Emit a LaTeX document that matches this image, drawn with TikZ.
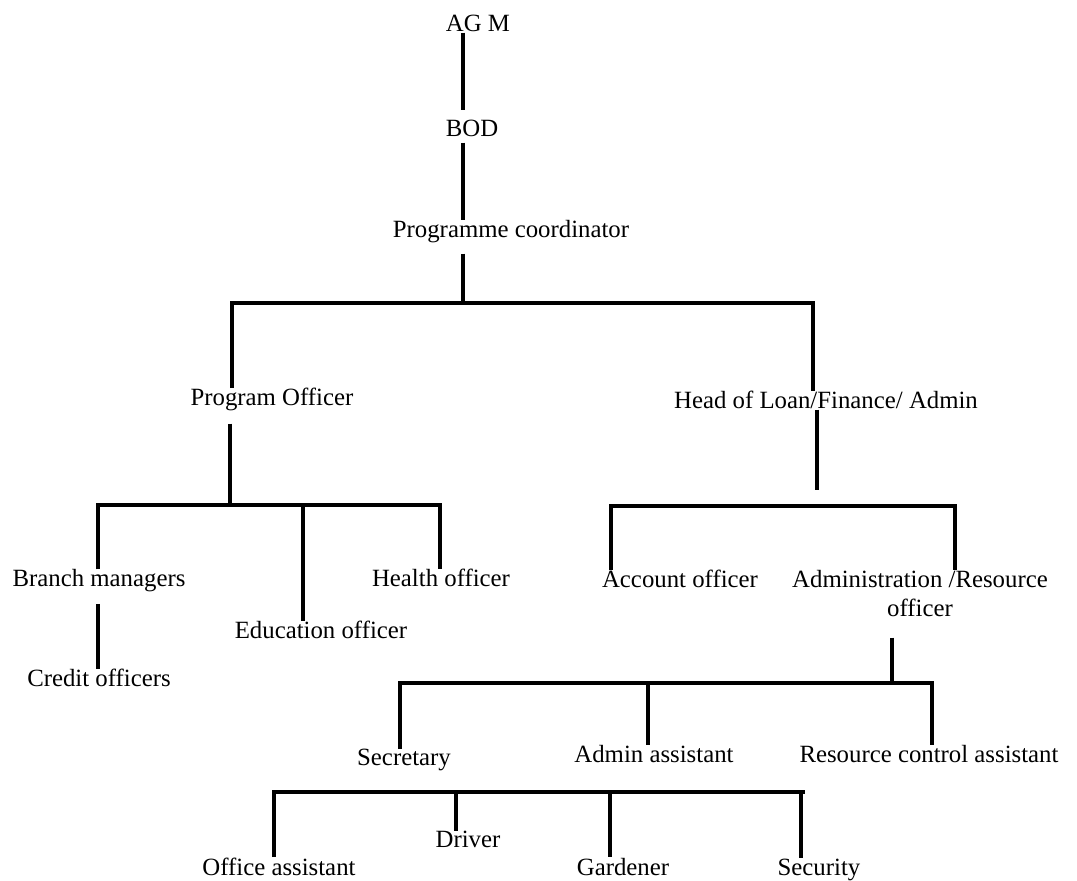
\documentclass[tikz,border=0pt]{standalone}
\usepackage{fontspec}
\setmainfont{Liberation Serif}
\tikzset{
    post/.style={anchor=base, inner sep=0pt, font=\fontsize{12.4}{14.5}\selectfont},
    link/.style={line width=1.6pt}
}
\begin{document}
\begin{tikzpicture}[x=0.5pt, y=-0.5pt]
        \useasboundingbox (0,0) rectangle (1077,881);

        % --- posts ---
        \node[post] (agm) at (478,32) {AG M};
        \node[post] (bod) at (472,137) {BOD};
        \node[post] (pc) at (511,238) {Programme coordinator};
        \node[post] (po) at (272,406) {Program Officer};
        \node[post] (head) at (826,409) {Head of Loan/Finance/ Admin};
        \node[post] (branch) at (99,587) {Branch managers};
        \node[post] (edu) at (321,639) {Education officer};
        \node[post] (health) at (441,587) {Health officer};
        \node[post] (credit) at (99,687) {Credit officers};
        \node[post] (account) at (680,588) {Account officer};
        \node[post, align=center] (admin) at (920,617) {Administration /Resource\\officer};
        \node[post] (secretary) at (404,766) {Secretary};
        \node[post] (adminast) at (654,763) {Admin assistant};
        \node[post] (resource) at (929,763) {Resource control assistant};
        \node[post] (office) at (279,875) {Office assistant};
        \node[post] (driver) at (468,848) {Driver};
        \node[post] (gardener) at (623,875) {Gardener};
        \node[post] (security) at (819,875) {Security};

        % --- junctions ---
        \coordinate (j1) at (463,303);
        \coordinate (j1l) at (232,303);
        \coordinate (j1r) at (813,303);
        \coordinate (j2) at (230,505);
        \coordinate (j2l) at (98,505);
        \coordinate (j2m) at (303,505);
        \coordinate (j2r) at (440,505);
        \coordinate (j3) at (817,490);
        \coordinate (j3l) at (611,506);
        \coordinate (j3r) at (955,506);
        \coordinate (j4) at (892,683);
        \coordinate (j4l) at (400,683);
        \coordinate (j4m) at (648,683);
        \coordinate (j4r) at (932,683);
        \coordinate (j5l) at (274,792);
        \coordinate (j5a) at (456,792);
        \coordinate (j5b) at (610,792);
        \coordinate (j5c) at (801,792);
        \coordinate (j5r) at (805,792);

        % --- top line ---
        \draw[link, shorten >=5pt] (agm.south -| j1) -- (bod.north -| j1);
        \draw[link, shorten <=2.5pt] (bod.south -| j1) -- (pc.north -| j1);
        \draw[link, shorten <=5pt] (pc.south -| j1) -- (j1);
        \draw[link] (po.north -| j1l) -- (j1l) -- (j1r) -- (head.north -| j1r);

        % --- programme side ---
        \draw[link, shorten <=6pt] (po.south -| j2) -- (j2);
        \draw[link] (branch.north -| j2l) -- (j2l) -- (j2r) -- (health.north -| j2r);
        \draw[link] (j2m) -- (edu.north -| j2m);
        \draw[link, shorten <=5.5pt] (branch.south -| j2l) -- (credit.north -| j2l);

        % --- finance side ---
        \draw[link] (head.south -| j3) -- (j3);
        \draw[link] (account.north -| j3l) -- (j3l) -- (j3r) -- (admin.north -| j3r);
        \draw[link, shorten <=10pt] (admin.south -| j4) -- (j4);
        \draw[link] (secretary.north -| j4l) -- (j4l) -- (j4r) -- (resource.north -| j4r);
        \draw[link] (j4m) -- (adminast.north -| j4m);

        % --- support staff ---
        \draw[link] (office.north -| j5l) -- (j5l) -- (j5r);
        \draw[link] (j5a) -- (driver.north -| j5a);
        \draw[link] (j5b) -- (gardener.north -| j5b);
        \draw[link] (j5c) -- (security.north -| j5c);

    \end{tikzpicture}
\end{document}
